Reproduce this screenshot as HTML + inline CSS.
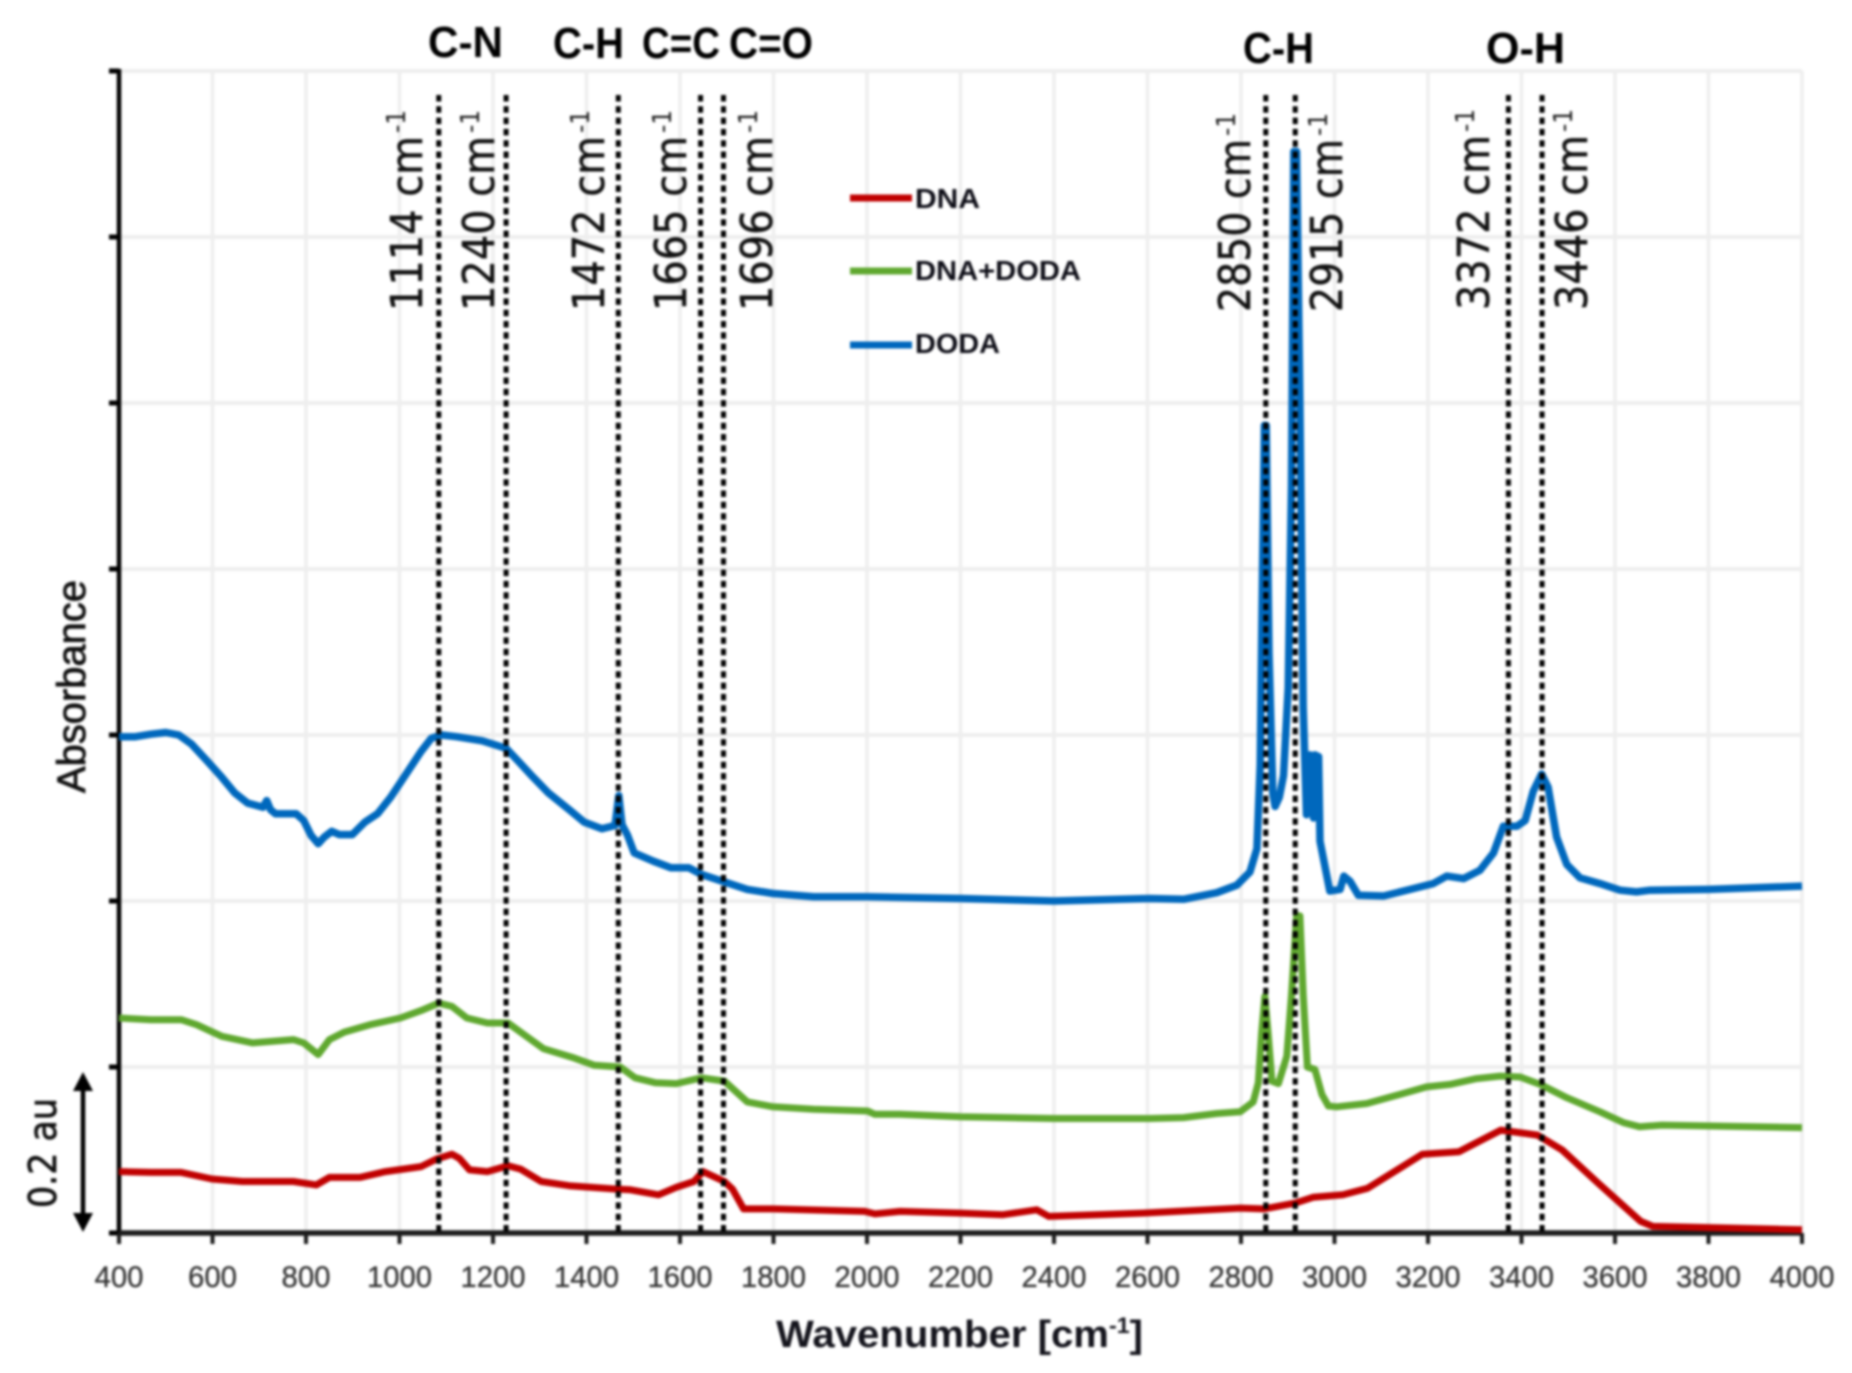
<!DOCTYPE html>
<html>
<head>
<meta charset="utf-8">
<title>FTIR Absorbance Spectra</title>
<style>
html,body{margin:0;padding:0;background:#fff;}
#chart{display:block;width:1852px;height:1373px;filter:blur(1.2px);}
.tick{font-family:"Liberation Sans",sans-serif;font-size:30px;fill:#333;stroke:#333;stroke-width:0.3px;text-anchor:middle;}
.peak{font-family:"DejaVu Sans",sans-serif;font-size:44px;fill:#111;stroke:#111;stroke-width:0.5px;}
.sup{font-family:"DejaVu Sans",sans-serif;font-size:26px;fill:#1a1a1a;}
.group{font-family:"Liberation Sans",sans-serif;font-size:44px;font-weight:bold;fill:#000;}
.legend{font-family:"Liberation Sans",sans-serif;font-size:28px;font-weight:bold;fill:#0d0d16;}
</style>
</head>
<body>
<svg id="chart" xmlns="http://www.w3.org/2000/svg" width="1852" height="1373" viewBox="0 0 1852 1373">
  <rect width="1852" height="1373" fill="#fff"/>
  <g id="grid"></g>
  <g id="axes"></g>
  <g id="series"></g>
  <g id="markers"></g>

  <g>
    <text class="peak" transform="translate(422,311) rotate(-90)" textLength="175" lengthAdjust="spacingAndGlyphs">1114 cm</text>
    <text class="sup" transform="translate(405,133) rotate(-90)" textLength="23" lengthAdjust="spacingAndGlyphs">-1</text>
    <text class="peak" transform="translate(494,311) rotate(-90)" textLength="175" lengthAdjust="spacingAndGlyphs">1240 cm</text>
    <text class="sup" transform="translate(479,133) rotate(-90)" textLength="23" lengthAdjust="spacingAndGlyphs">-1</text>
    <text class="peak" transform="translate(604,311) rotate(-90)" textLength="175" lengthAdjust="spacingAndGlyphs">1472 cm</text>
    <text class="sup" transform="translate(589,133) rotate(-90)" textLength="23" lengthAdjust="spacingAndGlyphs">-1</text>
    <text class="peak" transform="translate(686,311) rotate(-90)" textLength="175" lengthAdjust="spacingAndGlyphs">1665 cm</text>
    <text class="sup" transform="translate(671,133) rotate(-90)" textLength="23" lengthAdjust="spacingAndGlyphs">-1</text>
    <text class="peak" transform="translate(772,311) rotate(-90)" textLength="175" lengthAdjust="spacingAndGlyphs">1696 cm</text>
    <text class="sup" transform="translate(757,133) rotate(-90)" textLength="23" lengthAdjust="spacingAndGlyphs">-1</text>
    <text class="peak" transform="translate(1250,312) rotate(-90)" textLength="173" lengthAdjust="spacingAndGlyphs">2850 cm</text>
    <text class="sup" transform="translate(1235,136) rotate(-90)" textLength="23" lengthAdjust="spacingAndGlyphs">-1</text>
    <text class="peak" transform="translate(1342,312) rotate(-90)" textLength="173" lengthAdjust="spacingAndGlyphs">2915 cm</text>
    <text class="sup" transform="translate(1327,136) rotate(-90)" textLength="23" lengthAdjust="spacingAndGlyphs">-1</text>
    <text class="peak" transform="translate(1489,310) rotate(-90)" textLength="175" lengthAdjust="spacingAndGlyphs">3372 cm</text>
    <text class="sup" transform="translate(1474,132) rotate(-90)" textLength="23" lengthAdjust="spacingAndGlyphs">-1</text>
    <text class="peak" transform="translate(1587,310) rotate(-90)" textLength="175" lengthAdjust="spacingAndGlyphs">3446 cm</text>
    <text class="sup" transform="translate(1572,132) rotate(-90)" textLength="23" lengthAdjust="spacingAndGlyphs">-1</text>
  </g>

  <g>
    <text class="group" x="428" y="57" textLength="75" lengthAdjust="spacingAndGlyphs">C-N</text>
    <text class="group" x="553" y="58" textLength="71" lengthAdjust="spacingAndGlyphs">C-H</text>
    <text class="group" x="642" y="58" textLength="78" lengthAdjust="spacingAndGlyphs">C=C</text>
    <text class="group" x="729" y="58" textLength="84" lengthAdjust="spacingAndGlyphs">C=O</text>
    <text class="group" x="1243" y="63" textLength="71" lengthAdjust="spacingAndGlyphs">C-H</text>
    <text class="group" x="1486" y="63" textLength="79" lengthAdjust="spacingAndGlyphs">O-H</text>
  </g>

  <g>
    <line x1="850" y1="198" x2="912" y2="198" stroke="#C00000" stroke-width="7"/>
    <text class="legend" x="915" y="208" textLength="65" lengthAdjust="spacingAndGlyphs">DNA</text>
    <line x1="850" y1="271" x2="912" y2="271" stroke="#5FA82F" stroke-width="7"/>
    <text class="legend" x="915" y="280" textLength="166" lengthAdjust="spacingAndGlyphs">DNA+DODA</text>
    <line x1="850" y1="345" x2="912" y2="345" stroke="#0068BD" stroke-width="7"/>
    <text class="legend" x="915" y="353" textLength="85" lengthAdjust="spacingAndGlyphs">DODA</text>
  </g>

  <text transform="translate(85,793) rotate(-90)" font-family="'Liberation Sans',sans-serif" font-size="40" fill="#111" stroke="#111" stroke-width="0.8" textLength="213" lengthAdjust="spacingAndGlyphs">Absorbance</text>
  <text x="776" y="1347" font-family="'Liberation Sans',sans-serif" font-size="38" font-weight="bold" fill="#14141c" textLength="367" lengthAdjust="spacingAndGlyphs">Wavenumber [cm<tspan dy="-14" font-size="22">-1</tspan><tspan dy="14">]</tspan></text>

  <g>
    <line x1="83" y1="1085" x2="83" y2="1220" stroke="#000" stroke-width="4.5"/>
    <polygon points="83,1072 73,1091 93,1091" fill="#000"/>
    <polygon points="83,1232 73,1213 93,1213" fill="#000"/>
    <text transform="translate(56,1208) rotate(-90)" font-family="'DejaVu Sans',sans-serif" font-size="38" fill="#111" stroke="#111" stroke-width="0.7" textLength="110" lengthAdjust="spacingAndGlyphs">0.2 au</text>
  </g>
</svg>

<script>
// Axis ranges
const xDomain = [400, 4000];
const yDomain = [0, 1.4];

// Tick values
const xTickValues = [400,600,800,1000,1200,1400,1600,1800,2000,2200,2400,2600,2800,3000,3200,3400,3600,3800,4000];
const yTickValues = [0,0.2,0.4,0.6,0.8,1.0,1.2,1.4];

// Peak marker wavenumbers (dotted lines)
const peakMarkers = [1084,1228,1468,1644,1693,2853,2916,3372,3444];

// DODA spectrum
const dodaWavenumber = [400,435,468,500,528,555,588,620,648,675,708,716,724,735,779,795,811,826,839,855,871,899,926,953,981,1013,1046,1068,1090,1122,1177,1228,1253,1286,1319,1363,1395,1433,1461,1469,1476,1488,1502,1543,1581,1619,1646,1695,1744,1799,1886,2000,2200,2400,2605,2677,2748,2791,2819,2834,2841,2845,2850,2854,2860,2868,2873,2882,2891,2901,2908,2913,2919,2926,2933,2940,2948,2955,2958,2966,2969,2990,3012,3020,3033,3051,3105,3162,3211,3240,3276,3311,3340,3361,3390,3408,3425,3443,3457,3475,3497,3525,3568,3611,3646,3675,3800,4000];
const dodaAbsorbance = [0.598,0.598,0.601,0.603,0.600,0.589,0.569,0.549,0.530,0.518,0.513,0.521,0.510,0.505,0.505,0.497,0.479,0.469,0.477,0.484,0.480,0.480,0.495,0.505,0.525,0.552,0.580,0.596,0.600,0.598,0.593,0.584,0.569,0.549,0.530,0.510,0.495,0.487,0.491,0.527,0.492,0.479,0.458,0.448,0.440,0.440,0.432,0.423,0.414,0.409,0.405,0.405,0.403,0.400,0.403,0.402,0.410,0.419,0.435,0.463,0.564,0.750,0.973,0.973,0.700,0.530,0.514,0.525,0.551,0.657,0.900,1.303,1.303,1.000,0.634,0.504,0.576,0.500,0.576,0.574,0.472,0.412,0.414,0.430,0.424,0.407,0.406,0.414,0.421,0.430,0.427,0.437,0.458,0.490,0.490,0.497,0.532,0.553,0.537,0.477,0.444,0.428,0.421,0.413,0.411,0.413,0.414,0.418];

// DNA+DODA spectrum
const mixWavenumber = [400,468,533,566,620,686,773,795,826,850,882,937,1002,1046,1084,1112,1144,1188,1232,1264,1308,1373,1417,1472,1504,1548,1592,1646,1695,1744,1799,1886,2001,2017,2070,2200,2400,2605,2677,2748,2798,2826,2837,2844,2851,2858,2866,2880,2898,2908,2919,2926,2933,2942,2958,2973,2987,3005,3069,3140,3197,3247,3304,3354,3397,3440,3497,3568,3618,3653,3700,4000];
const mixAbsorbance = [0.259,0.257,0.257,0.251,0.237,0.229,0.233,0.229,0.215,0.233,0.242,0.251,0.259,0.268,0.277,0.273,0.259,0.253,0.253,0.240,0.222,0.211,0.202,0.200,0.187,0.181,0.180,0.187,0.183,0.158,0.152,0.149,0.147,0.143,0.143,0.140,0.138,0.138,0.139,0.144,0.146,0.158,0.181,0.241,0.285,0.241,0.183,0.180,0.213,0.287,0.382,0.382,0.287,0.200,0.197,0.167,0.153,0.152,0.156,0.167,0.176,0.179,0.186,0.189,0.188,0.179,0.163,0.146,0.133,0.128,0.130,0.127];

// DNA spectrum
const dnaWavenumber = [400,468,533,599,664,773,822,850,915,970,1046,1079,1112,1128,1150,1188,1232,1259,1303,1363,1461,1494,1554,1592,1630,1649,1695,1712,1736,1799,1995,2017,2071,2200,2291,2363,2389,2590,2798,2849,2916,2954,3018,3071,3188,3266,3356,3434,3487,3564,3655,3681,4000];
const dnaAbsorbance = [0.074,0.073,0.073,0.065,0.062,0.062,0.058,0.067,0.067,0.074,0.080,0.089,0.095,0.090,0.076,0.074,0.081,0.077,0.062,0.057,0.053,0.052,0.046,0.055,0.062,0.074,0.062,0.053,0.029,0.029,0.026,0.023,0.026,0.024,0.022,0.028,0.020,0.024,0.030,0.029,0.036,0.043,0.046,0.054,0.095,0.098,0.124,0.118,0.100,0.060,0.014,0.008,0.004];

const NS = 'http://www.w3.org/2000/svg';
const plot = {left:119, right:1802, top:71, bottom:1233};
function xScale(v){ return plot.left + (v - xDomain[0]) / (xDomain[1] - xDomain[0]) * (plot.right - plot.left); }
function yScale(v){ return plot.bottom - (v - yDomain[0]) / (yDomain[1] - yDomain[0]) * (plot.bottom - plot.top); }
function mk(tag, parent){ const e = document.createElementNS(NS, tag); parent.appendChild(e); return e; }
function line(parent, x1, y1, x2, y2, color, width){
  const l = mk('line', parent);
  l.setAttribute('x1', x1);
  l.setAttribute('y1', y1);
  l.setAttribute('x2', x2);
  l.setAttribute('y2', y2);
  l.setAttribute('stroke', color);
  l.setAttribute('stroke-width', width);
  return l;
}

const grid = document.getElementById('grid');
const axes = document.getElementById('axes');
const seriesG = document.getElementById('series');
const markersG = document.getElementById('markers');

xTickValues.forEach(function(v){
  if (v === xDomain[0]) return;
  const g = line(grid, xScale(v), plot.top, xScale(v), plot.bottom, '#eeeeee', 3.5);
  
  
});
yTickValues.forEach(function(v){
  const g = line(grid, plot.left, yScale(v), plot.right, yScale(v), '#eeeeee', 4);
  
  
});

const yAxis = line(axes, plot.left, plot.top - 2, plot.left, plot.bottom, '#000', 4.5);


const xAxis = line(axes, plot.left, plot.bottom, plot.right, plot.bottom, '#1c1c1c', 5.5);



yTickValues.forEach(function(v){
  const t = line(axes, plot.left - 10, yScale(v), plot.left, yScale(v), '#000', 5);
  
  
});
xTickValues.forEach(function(v){
  const t = line(axes, xScale(v), plot.bottom, xScale(v), plot.bottom + 11, '#1c1c1c', 4);
  
  
  const label = mk('text', axes);
  
  
  label.setAttribute('class', 'tick');
  label.setAttribute('x', xScale(v));
  label.setAttribute('y', 1287);
  label.setAttribute('textLength', String(v).length === 4 ? 65 : 49);
  label.setAttribute('lengthAdjust', 'spacingAndGlyphs');
  label.textContent = String(v);
});

function drawSeries(xs, ys, color, width){
  let d = '';
  xs.forEach(function(v, i){
    d += (i ? 'L' : 'M') + xScale(v).toFixed(1) + ' ' + yScale(ys[i]).toFixed(1);
  });
  const p = mk('path', seriesG);
  p.setAttribute('d', d);
  p.setAttribute('fill', 'none');
  p.setAttribute('stroke', color);
  p.setAttribute('stroke-width', width);
  p.setAttribute('stroke-linejoin', 'round');
  p.setAttribute('stroke-linecap', 'butt');
  return p;
}

const dnaPath = drawSeries(dnaWavenumber, dnaAbsorbance, '#C00000', 7);


const mixPath = drawSeries(mixWavenumber, mixAbsorbance, '#5FA82F', 7);


const dodaPath = drawSeries(dodaWavenumber, dodaAbsorbance, '#0068BD', 7.5);



peakMarkers.forEach(function(v){
  const m = line(markersG, xScale(v), 95, xScale(v), plot.bottom, '#000', 5);
  m.setAttribute('stroke-dasharray', '6.5 4.8');
  
  
});
</script>
</body>
</html>
